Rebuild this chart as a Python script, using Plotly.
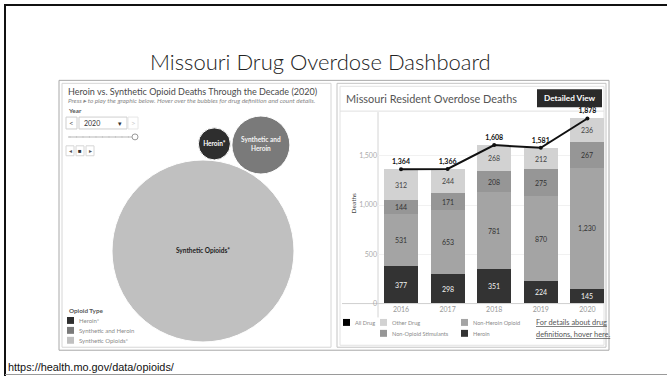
import math
import plotly.graph_objects as go

W, H = 667, 379

# ---- data -------------------------------------------------------------
years = ["2016", "2017", "2018", "2019", "2020"]
heroin = [377, 298, 351, 224, 145]
non_heroin_opioid = [531, 653, 781, 870, 1230]
non_opioid_stimulants = [144, 171, 208, 275, 267]
other_drug = [312, 244, 268, 212, 236]
all_drug = [1364, 1366, 1608, 1581, 1878]

opioid_types = ["Heroin*", "Synthetic and Heroin", "Synthetic Opioids*"]
opioid_labels = ["Heroin*", "Synthetic and<br>Heroin", "Synthetic Opioids*"]
opioid_deaths_2020 = [34, 111, 1093]

y_ticks = [0, 500, 1000, 1500]

# ---- styles -----------------------------------------------------------
FONT = "Lato"
C_HEROIN = "#333333"
C_NHO = "#a4a4a4"
C_NOS = "#969696"
C_OTHER = "#d2d2d2"
C_BUB = ["#2e2e2e", "#7a7a7a", "#c0c0c0"]


def fx(x):
    return x / W


def fy(y):
    return 1 - y / H


fig = go.Figure()

# ---- stacked bars: Missouri resident overdose deaths -----------------
segments = [
    ("Heroin", heroin, C_HEROIN, "#f2f2f2"),
    ("Non-Heroin Opioid", non_heroin_opioid, C_NHO, "#333333"),
    ("Non-Opioid Stimulants", non_opioid_stimulants, C_NOS, "#333333"),
    ("Other Drug", other_drug, C_OTHER, "#444444"),
]
for name, vals, col, tcol in segments:
    fig.add_trace(go.Bar(
        x=years, y=vals, name=name, marker=dict(color=col, line=dict(width=0)),
        width=0.73, text=[f"{v:,}" for v in vals], textposition="inside",
        insidetextanchor="middle", textangle=0,
        textfont=dict(family=FONT, size=7, color=tcol),
        xaxis="x", yaxis="y", showlegend=False, hoverinfo="skip",
    ))

fig.add_trace(go.Scatter(
    x=years, y=all_drug, mode="lines+markers+text",
    line=dict(color="#111111", width=2), marker=dict(color="#111111", size=4),
    text=[f"<b>{v:,}</b>" for v in all_drug], textposition="top center",
    textfont=dict(family=FONT, size=7, color="#111111"),
    xaxis="x", yaxis="y", showlegend=False, cliponaxis=False, hoverinfo="skip",
))

# ---- packed bubbles: opioid type, 2020 -------------------------------
D_MAX = 182.0
vmax = max(opioid_deaths_2020)
sizeref = 2.0 * vmax / D_MAX ** 2
radii = [D_MAX / 2 * math.sqrt(v / vmax) for v in opioid_deaths_2020]

# largest bubble anchored, the other two packed tangent to it and each other
gap = 1.5
c_big = (203.0, 253.0)
r_h, r_sh, r_big = radii
theta = math.radians(-84.0)
d1 = r_big + r_h + gap
c_h = (c_big[0] + d1 * math.cos(theta), c_big[1] + d1 * math.sin(theta))
d02 = r_big + r_sh + gap
d12 = r_h + r_sh + gap
dx, dy = c_h[0] - c_big[0], c_h[1] - c_big[1]
d = math.hypot(dx, dy)
a = (d02 ** 2 - d12 ** 2 + d ** 2) / (2 * d)
h = math.sqrt(max(d02 ** 2 - a ** 2, 0))
px0, py0 = c_big[0] + a * dx / d, c_big[1] + a * dy / d
cands = [(px0 - h * dy / d, py0 + h * dx / d), (px0 + h * dy / d, py0 - h * dx / d)]
c_sh = max(cands, key=lambda p: p[0])

bx = [c_h[0], c_sh[0], c_big[0]]
by = [c_h[1], c_sh[1], c_big[1]]
fig.add_trace(go.Scatter(
    x=bx, y=by, mode="markers+text",
    marker=dict(size=opioid_deaths_2020, sizemode="area", sizeref=sizeref,
                color=C_BUB, line=dict(color="white", width=1), opacity=1),
    text=[f"<b>{t}</b>" for t in opioid_labels], textposition="middle center",
    textfont=dict(family=FONT, size=6.5, color=["#ffffff", "#f4f4f4", "#222222"]),
    xaxis="x2", yaxis="y2", showlegend=False, cliponaxis=False, hoverinfo="skip",
))

# ---- axes -------------------------------------------------------------
BAR_L, BAR_R, BAR_B, BAR_T = 378, 605, 306, 113
ppu = (306 - 157) / 1500.0
fig.update_layout(
    xaxis=dict(domain=[fx(BAR_L), fx(BAR_R)], range=[-0.494, 4.378], type="category",
               showgrid=False, zeroline=False, showline=False, ticks="",
               tickfont=dict(family=FONT, size=7, color="#999999")),
    yaxis=dict(domain=[fy(BAR_B), fy(BAR_T)], range=[0, (BAR_B - BAR_T) / ppu],
               tickvals=y_ticks, ticktext=[f"{v:,}" for v in y_ticks],
               showgrid=True, gridcolor="#f1f1f1", gridwidth=1, zeroline=False,
               showline=False, ticks="",
               tickfont=dict(family=FONT, size=7, color="#aaaaaa")),
    xaxis2=dict(domain=[fx(64), fx(329)], range=[64, 329], visible=False),
    yaxis2=dict(domain=[fy(348), fy(104)], range=[348, 104], visible=False),
    barmode="stack", bargap=0,
    width=W, height=H, margin=dict(l=0, r=0, t=0, b=0),
    paper_bgcolor="white", plot_bgcolor="rgba(0,0,0,0)",
)

# ---- frames and decorations ------------------------------------------
shapes = []


def rect(x0, y0, x1, y1, line="#cccccc", fill=None, w=1, layer="below"):
    shapes.append(dict(type="rect", xref="paper", yref="paper",
                       x0=fx(x0), x1=fx(x1), y0=fy(y1), y1=fy(y0),
                       line=dict(color=line, width=w) if w else dict(width=0),
                       fillcolor=fill if fill else "rgba(0,0,0,0)", layer=layer))


def hline(x0, x1, y, color, w=1, layer="below"):
    shapes.append(dict(type="line", xref="paper", yref="paper",
                       x0=fx(x0), x1=fx(x1), y0=fy(y), y1=fy(y),
                       line=dict(color=color, width=w), layer=layer))


def vline(x, y0, y1, color, w=1, layer="below"):
    shapes.append(dict(type="line", xref="paper", yref="paper",
                       x0=fx(x), x1=fx(x), y0=fy(y0), y1=fy(y1),
                       line=dict(color=color, width=w), layer=layer))


# slide edges
hline(4, 667, 5, "#111111", 2)
vline(5, 4, 379, "#111111", 2)
hline(5, 667, 377.5, "#9a9a9a", 1)

# dashboard frame and panels
rect(59, 81, 609, 353, line="#a8a8a8", fill="white")
rect(62, 84, 331, 350, line="#d6d6d6")
rect(337, 84, 606, 350, line="#c4c4c4")
rect(340, 87, 604, 348, line="#e2e2e2")
hline(340, 604, 112, "#e0e0e0")
rect(537, 90, 602, 108, line="#222222", fill="#2a2a2a", w=0)

# bar chart axis lines
vline(BAR_L, BAR_T, 320, "#d4d4d4")
hline(342, 604, BAR_B, "#cfcfcf")

# year selector controls
rect(66, 118, 77, 130, line="#cfcfcf")
rect(79, 118, 127, 130, line="#cfcfcf")
rect(128, 118, 138, 130, line="#e6e6e6")
hline(68, 132, 138, "#cfcfcf", 1.5)
shapes.append(dict(type="circle", xref="paper", yref="paper",
                   x0=fx(132), x1=fx(138), y0=fy(141), y1=fy(135),
                   line=dict(color="#999999", width=1), fillcolor="white"))
for i in range(10):
    xx = 70 + i * 6.5
    shapes.append(dict(type="circle", xref="paper", yref="paper",
                       x0=fx(xx - 0.6), x1=fx(xx + 0.6), y0=fy(138.6), y1=fy(137.4),
                       line=dict(width=0), fillcolor="#bbbbbb"))
for x0 in (66, 76, 86):
    rect(x0, 147, x0 + 8, 157, line="#d6d6d6")

# legends
legend_right = [
    (343, 325, "#000000", "All Drug"),
    (380, 325, C_OTHER, "Other Drug"),
    (461, 325, C_NHO, "Non-Heroin Opioid"),
    (380, 336, C_NOS, "Non-Opioid Stimulants"),
    (461, 336, C_HEROIN, "Heroin"),
]
legend_left = [
    (67, 323, C_BUB[0], opioid_types[0]),
    (67, 333, C_BUB[1], opioid_types[1]),
    (67, 343, C_BUB[2], opioid_types[2]),
]
for x0, yc, col, _ in legend_right + legend_left:
    rect(x0, yc - 3.5, x0 + 7, yc + 3.5, line=col, fill=col, w=0)

# ---- texts ------------------------------------------------------------
ann = []


def text(x, y, s, size, color="#333333", anchor="left", family=FONT, angle=0, weight=None):
    font = dict(family=family, size=size, color=color)
    if weight:
        font["weight"] = weight
    ann.append(dict(x=fx(x), y=fy(y), xref="paper", yref="paper", text=s,
                    showarrow=False, xanchor=anchor, yanchor="middle",
                    textangle=angle, font=font))


text(148, 62, "Missouri Drug Overdose Dashboard", 22.0, "#222222", weight=300)
text(6, 370, "https://health.mo.gov/data/opioids/", 10.9, "#111111", family="Liberation Sans")

text(66, 92, "Heroin vs. Synthetic Opioid Deaths Through the Decade (2020)", 9.0, "#4a4a4a")
text(66, 101, "<i>Press ▸ to play the graphic below. Hover over the bubbles for drug definition and count details.</i>",
     6.4, "#888888")
text(66, 111, "<b>Year</b>", 6.3, "#555555")
text(71.5, 124, "&lt;", 8, "#555555", anchor="center")
text(82, 124, "2020", 7, "#333333")
text(120, 124, "▾", 7, "#333333", anchor="center")
text(133, 124, "&gt;", 8, "#cccccc", anchor="center")
text(70, 152, "◂", 6, "#555555", anchor="center")
text(80, 152, "■", 6, "#333333", anchor="center")
text(90, 152, "▸", 6, "#555555", anchor="center")

text(67, 313, "<b>Opioid Type</b>", 6.3, "#555555")
for x0, yc, _, lab in legend_left:
    text(x0 + 10, yc, lab, 6, "#8a8a8a")

text(344, 99, "Missouri Resident Overdose Deaths", 10.9, "#555555")
text(569.5, 99, "<b>Detailed View</b>", 8.2, "#ffffff", anchor="center")
text(353, 205, "Deaths", 6.5, "#444444", anchor="center", angle=-90)
for x0, yc, _, lab in legend_right:
    text(x0 + 10, yc, lab, 5.6, "#8a8a8a")
text(534, 325, "<u>For details about drug</u>", 7.4, "#555555")
text(534, 337, "<u>definitions, hover here.</u>", 7.4, "#555555")

fig.update_layout(shapes=shapes, annotations=ann)
fig.write_html("out.html")
